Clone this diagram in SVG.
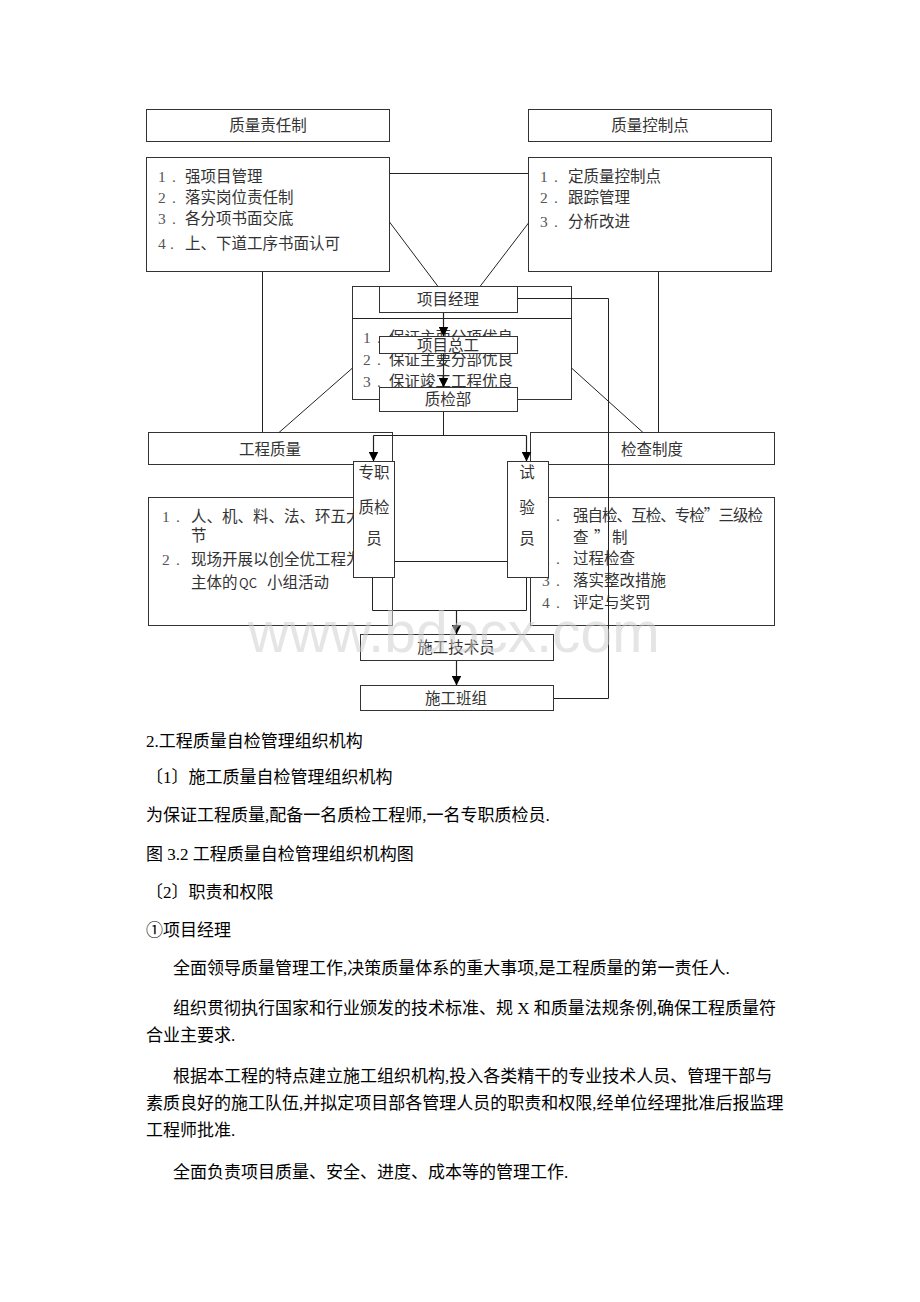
<svg xmlns="http://www.w3.org/2000/svg" width="920" height="1302" viewBox="0 0 920 1302">
<defs>
<marker id="ah" markerUnits="userSpaceOnUse" markerWidth="10" markerHeight="10" refX="10" refY="5" orient="auto" viewBox="0 0 10 10">
<path d="M0,0 L10,5 L0,10 z" fill="#000"/>
</marker>
<style>
.box{fill:#fff;stroke:#333;stroke-width:1}
.t{font-family:"Noto Sans CJK SC",sans-serif;font-size:15.5px;fill:#333}
.c{text-anchor:middle}
.num{font-family:"Liberation Serif",serif;font-size:15.5px;fill:#555}
.ln{stroke:#222;stroke-width:1;fill:none}
.ar{stroke:#222;stroke-width:1.2;fill:none}
.body{font-family:"Liberation Serif","Noto Sans CJK SC",serif;font-size:17px;fill:#000}
.wm{font-family:"Liberation Sans",Arial,sans-serif;font-size:57px;fill:#cfcfcf;fill-opacity:0.55}
</style>
</defs>
<rect width="920" height="1302" fill="#fff"/>

<g id="n-zlzrz">
<rect class="box" x="146.5" y="109.5" width="243" height="32"/>
<text class="t c" x="268" y="131">质量责任制</text>
</g>
<g id="n-zlkzd">
<rect class="box" x="528.5" y="109.5" width="243" height="32"/>
<text class="t c" x="650" y="131">质量控制点</text>
</g>
<g id="n-zrz-list">
<rect class="box" x="146.5" y="157.5" width="243" height="114"/>
<text class="num"><tspan x="158" y="181.5">1</tspan><tspan x="172">.</tspan><tspan x="158" y="202.5">2</tspan><tspan x="172">.</tspan><tspan x="158" y="223.5">3</tspan><tspan x="172">.</tspan><tspan x="158" y="248.5">4</tspan><tspan x="170">.</tspan></text>
<text class="t"><tspan x="185" y="181.5">强项目管理</tspan><tspan x="185" y="202.5">落实岗位责任制</tspan><tspan x="185" y="223.5">各分项书面交底</tspan><tspan x="185" y="248.5">上、下道工序书面认可</tspan></text>
</g>
<g id="n-kzd-list">
<rect class="box" x="528.5" y="157.5" width="243" height="114"/>
<text class="num"><tspan x="540" y="181.5">1</tspan><tspan x="554">.</tspan><tspan x="540" y="202.5">2</tspan><tspan x="554">.</tspan><tspan x="540" y="226.5">3</tspan><tspan x="554">.</tspan></text>
<text class="t"><tspan x="568" y="181.5">定质量控制点</tspan><tspan x="568" y="202.5">跟踪管理</tspan><tspan x="568" y="226.5">分析改进</tspan></text>
</g>
<g id="n-gczl">
<rect class="box" x="148.5" y="432.5" width="244" height="32"/>
<text class="t c" x="270" y="454.5">工程质量</text>
</g>
<g id="n-jczd">
<rect class="box" x="530.5" y="432.5" width="244" height="32"/>
<text class="t c" x="652" y="454.5">检查制度</text>
</g>
<g id="n-gczl-list">
<rect class="box" x="148.5" y="497.5" width="244" height="128"/>
<text class="num"><tspan x="162" y="521.5">1</tspan><tspan x="176">.</tspan><tspan x="162" y="564.5">2</tspan><tspan x="176">.</tspan></text>
<text class="t"><tspan x="191" y="521.5">人、机、料、法、环五大环</tspan><tspan x="191" y="540.5">节</tspan><tspan x="191" y="564.5">现场开展以创全优工程为</tspan><tspan x="191" y="587.5">主体的</tspan><tspan x="239" style="font-size:13px">QC</tspan><tspan x="267">小组活动</tspan></text>
</g>
<g id="n-jczd-list">
<rect class="box" x="530.5" y="497.5" width="244" height="128"/>
<text class="num"><tspan x="542" y="520.5">1</tspan><tspan x="556">.</tspan><tspan x="542" y="563.5">2</tspan><tspan x="556">.</tspan><tspan x="542" y="585.5">3</tspan><tspan x="556">.</tspan><tspan x="542" y="607.5">4</tspan><tspan x="556">.</tspan></text>
<text class="t"><tspan x="573" y="520.5" textLength="190" lengthAdjust="spacing">强自检、互检、专检”三级检</tspan><tspan x="573" y="542.5">查</tspan><tspan x="594">”</tspan><tspan x="612">制</tspan><tspan x="573" y="563.5">过程检查</tspan><tspan x="573" y="585.5">落实整改措施</tspan><tspan x="573" y="607.5">评定与奖罚</tspan></text>
</g>
<g id="n-outer">
<rect class="box" x="352.5" y="286.5" width="219" height="113"/>
<line class="ln" x1="352.5" y1="318.5" x2="571.5" y2="318.5" stroke="#333"/>
<text class="num"><tspan x="363" y="342.5">1</tspan><tspan x="377">.</tspan><tspan x="363" y="364.5">2</tspan><tspan x="377">.</tspan><tspan x="363" y="386.5">3</tspan><tspan x="377">.</tspan></text>
<text class="t"><tspan x="389" y="342.5">保证主要分项优良</tspan><tspan x="389" y="364.5">保证主要分部优良</tspan><tspan x="389" y="386.5">保证竣工工程优良</tspan></text>
</g>

<g id="connectors">
<path class="ln" d="M389.5,173.5 H528.5"/>
<path class="ln" d="M389.5,222 L438,286.5"/>
<path class="ln" d="M528.5,223 L480,286.5"/>
<path class="ln" d="M262.5,271.5 V432.5"/>
<path class="ln" d="M658.5,271.5 V432.5"/>
<path class="ln" d="M352.5,368 L279,432.5"/>
<path class="ln" d="M571.5,368 L643,432.5"/>
<path class="ar" d="M443.5,312.5 V336.5" marker-end="url(#ah)"/>
<path class="ar" d="M443.5,353.5 V387.5" marker-end="url(#ah)"/>
<path class="ln" d="M443.5,411.5 V435.5"/>
<path class="ln" d="M373.5,435.5 H526.5"/>
<path class="ar" d="M373.5,435.5 V461.5" marker-end="url(#ah)"/>
<path class="ar" d="M526.5,435.5 V461.5" marker-end="url(#ah)"/>
<path class="ln" d="M394.5,561.5 H507.5"/>
<path class="ln" d="M372.5,577.5 V610.5 H526.5 V577.5"/>
<path class="ar" d="M456.5,610.5 V634.5" marker-end="url(#ah)"/>
<path class="ar" d="M456.5,660.5 V685.5" marker-end="url(#ah)"/>
<path class="ln" d="M517.5,298.5 H608.5 V698.5 H553.5"/>
</g>

<g id="n-xmjl">
<rect class="box" x="379.5" y="286.5" width="138" height="26"/>
<text class="t c" x="448" y="305">项目经理</text>
</g>
<g id="n-xmzg">
<rect class="box" x="379.5" y="336.5" width="138" height="17"/>
<text class="t c" x="448" y="350.5">项目总工</text>
</g>
<g id="n-zjb">
<rect class="box" x="379.5" y="387.5" width="138" height="24"/>
<text class="t c" x="448" y="404.5">质检部</text>
</g>
<g id="n-zzzjy">
<rect class="box" x="353.5" y="461.5" width="41" height="116"/>
<text class="t c"><tspan x="374" y="477.5">专职</tspan><tspan x="374" y="512.5">质检</tspan><tspan x="374" y="543.5">员</tspan></text>
</g>
<g id="n-syy">
<rect class="box" x="507.5" y="461.5" width="41" height="116"/>
<text class="t c"><tspan x="527" y="477.5">试</tspan><tspan x="527" y="512.5">验</tspan><tspan x="527" y="543.5">员</tspan></text>
</g>
<g id="n-sgjsy">
<rect class="box" x="360.5" y="634.5" width="193" height="26"/>
<text class="t c" x="456" y="653">施工技术员</text>
</g>
<g id="n-sgbz">
<rect class="box" x="360.5" y="685.5" width="193" height="25"/>
<text class="t c" x="456" y="703.5">施工班组</text>
</g>

<text class="wm" x="248" y="652">www.bdocx.com</text>

<g id="body">
<text class="body" x="146" y="747">2.工程质量自检管理组织机构</text>
<text class="body" x="146" y="783">〔1〕施工质量自检管理组织机构</text>
<text class="body" x="146" y="821">为保证工程质量,配备一名质检工程师,一名专职质检员.</text>
<text class="body" x="146" y="860">图 3.2 工程质量自检管理组织机构图</text>
<text class="body" x="146" y="898">〔2〕职责和权限</text>
<text class="body" x="146" y="936">①项目经理</text>
<text class="body" x="173" y="974">全面领导质量管理工作,决策质量体系的重大事项,是工程质量的第一责任人.</text>
<text class="body" x="173" y="1014">组织贯彻执行国家和行业颁发的技术标准、规 X 和质量法规条例,确保工程质量符</text>
<text class="body" x="146" y="1041">合业主要求.</text>
<text class="body" x="173" y="1082">根据本工程的特点建立施工组织机构,投入各类精干的专业技术人员、管理干部与</text>
<text class="body" x="146" y="1109">素质良好的施工队伍,并拟定项目部各管理人员的职责和权限,经单位经理批准后报监理</text>
<text class="body" x="146" y="1136">工程师批准.</text>
<text class="body" x="173" y="1178">全面负责项目质量、安全、进度、成本等的管理工作.</text>
</g>
</svg>
